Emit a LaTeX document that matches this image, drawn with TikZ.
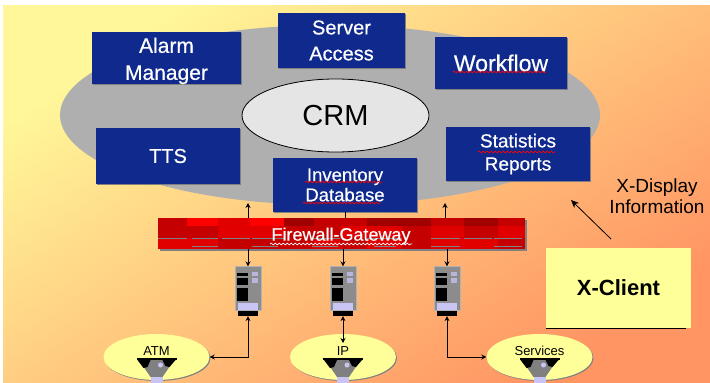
\documentclass[tikz,border=0pt]{standalone}
\usepackage{fontspec}
\setmainfont{Liberation Sans}
\newfontfamily\heavyfont[FakeBold=0.5]{Liberation Sans}
\usepackage{tikz}
\usetikzlibrary{positioning,shapes.geometric,shadows,arrows.meta,decorations.pathmorphing}

\definecolor{bgA}{HTML}{FFF799}
\definecolor{bgB}{HTML}{FFCF7C}
\definecolor{bgC}{HTML}{FF9563}
\definecolor{navy}{HTML}{0F298C}
\definecolor{disc}{HTML}{AFAFAF}
\definecolor{pale}{HTML}{FFFF99}
\definecolor{lilac}{HTML}{C8C4F4}
\definecolor{fwA}{HTML}{FF0000}
\definecolor{fwB}{HTML}{E00000}
\definecolor{fwC}{HTML}{C40000}
\definecolor{fwD}{HTML}{A00000}

\tikzset{
  svc/.style={rectangle,fill=navy,text=white,align=center,inner sep=0pt,
    font=\heavyfont\fontsize{20}{26}\selectfont,
    drop shadow={shadow xshift=1pt,shadow yshift=-1pt,fill=gray,opacity=1}},
  site/.style={ellipse,fill=pale,inner sep=0pt,minimum width=106pt,minimum height=46pt,
    drop shadow={shadow xshift=1pt,shadow yshift=-1pt,fill=gray,opacity=1}},
  sitetxt/.style={inner sep=0pt,font=\fontsize{13}{13}\selectfont},
  srv/.style={rectangle,fill=gray!90,draw=gray!60,inner sep=0pt,minimum width=26pt,minimum height=44pt},
  srvbase/.style={rectangle,fill=black,inner sep=0pt,minimum width=20pt,minimum height=5pt},
  flow/.style={-{Stealth[length=5pt,width=5pt]},line width=0.9pt},
  both/.style={{Stealth[length=5pt,width=5pt]}-{Stealth[length=5pt,width=5pt]},line width=0.9pt},
  squiggle/.style={decorate,decoration={snake,amplitude=0.9pt,segment length=4pt},line width=0.7pt},
  srvicon/.pic={
    \fill[black] (-11,-16) rectangle (0,-13);
    \fill[black] (-11,-11) rectangle (0,-4);
    \fill[black] (-11,-1) rectangle (0,12);
    \fill[lilac!80!gray] (4,-17) rectangle (10,-13);
    \fill[lilac!80!gray] (4,-11) rectangle (10,-6);
    \fill[lilac] (-10,14) rectangle (10,21);
  },
  funnel/.pic={
    \fill[gray] (-19,1) -- (19,1) -- (6,20) -- (-6,20) -- cycle;
    \fill[black] (-20,1) rectangle (20,3);
    \fill[black] (-19,3) -- (-6,3) -- (-9,10) -- (-13,11) -- cycle;
    \fill[black] (19,3) -- (6,3) -- (9,9) -- (13,10) -- cycle;
    \fill[lilac] (4,8) circle (2.5);
    \fill[lilac] (-6,20) rectangle (6,28);
  },
}

\begin{document}
\begin{tikzpicture}[x=1pt,y=-1pt]
    \useasboundingbox (0,0) rectangle (710,383);
    \shade[left color=bgA,middle color=bgB,right color=bgC,shading angle=34] (3,5) rectangle (710,383);

    \node[ellipse,fill=disc,inner sep=0pt,minimum width=540pt,minimum height=180pt] (disk) at (330,115) {};
    \node[ellipse,fill=gray!20,draw=black,line width=0.8pt,inner sep=0pt,minimum width=187pt,minimum height=73pt,
      font=\fontsize{29}{29}\selectfont] (crm) at (335.5,115.5) {CRM};

    \node[svc,minimum width=149pt,minimum height=52pt,font=\heavyfont\fontsize{21}{27}\selectfont] (alarm) at (166.5,58) {\rule{0pt}{21pt}Alarm\\Manager};
    \node[svc,minimum width=127pt,minimum height=55pt] (access) at (341.5,40.5) {Server\\Access};
    \node[svc,minimum width=132pt,minimum height=52pt,font=\heavyfont\fontsize{23}{25}\selectfont] (workflow) at (501,63) {Workflow};
    \node[svc,minimum width=144pt,minimum height=56pt] (tts) at (168,156) {TTS};
    \node[svc,minimum width=144pt,minimum height=54pt,font=\heavyfont\fontsize{19}{23}\selectfont] (stats) at (518,154) {Statistics\\Reports};
    \node[svc,minimum width=144pt,minimum height=54pt,font=\heavyfont\fontsize{18.5}{20}\selectfont] (invdb) at (345,185) {Inventory\\Database};

    \draw[red,squiggle] (453,72) -- (546,72);
    \draw[red,squiggle] (478,152) -- (555,152);
    \draw[red,squiggle] (305,182) -- (382,182);
    \draw[red,squiggle] (303,203) -- (380,203);

    \node[rectangle,fill=fwB,inner sep=0pt,minimum width=367pt,minimum height=31pt,
      drop shadow={shadow xshift=2pt,shadow yshift=-2pt,fill=gray,opacity=1}] (fwgate) at (341.5,233.5) {};
    \foreach \xa/\xb/\ca/\cb/\cc in {158/187/fwC/fwC/fwB,187/218/fwA/fwC/fwB,218/250/fwB/fwB/fwC,
      250/284/fwA/fwB/fwC,284/314/fwD/fwC/fwC,314/340/fwC/fwC/fwB,340/367/fwC/fwB/fwC,
      367/402/fwD/fwB/fwB,402/431/fwD/fwC/fwC,431/464/fwC/fwB/fwB,464/498/fwD/fwC/fwB,498/525/fwC/fwB/fwC} {
      \fill[\ca] (\xa,218) rectangle (\xb,226);
      \fill[\cb] (\xa,226) rectangle (\xb,238);
      \fill[\cc] (\xa,238) rectangle (\xb,249);
    }
    \foreach \xa/\xb in {158/187,192/218,222/250,252/284,314/340,367/402,431/460,464/492,494/522} {
      \draw[gray,line width=0.8pt] (\xa,238.5) -- (\xb,238.5);
    }
    \foreach \xa/\xb in {192/218,252/278,312/338,374/396,431/460,494/522} {
      \draw[gray,line width=0.8pt] (\xa,246.5) -- (\xb,246.5);
    }
    \node[text=white,inner sep=0pt,font=\heavyfont\fontsize{18}{18}\selectfont] (fwtxt) at (341,236) {Firewall-Gateway};
    \draw[white,squiggle] (270,244) -- (412,244);

    \foreach \name/\x in {srvA/248,srvB/343,srvC/447} {
      \node[srv] (\name) at (\x,288.5) {};
      \node[srvbase,below=0pt of \name] (\name base) {};
      \pic at (\name) {srvicon};
    }

    \node[site] (atm) at (156.5,357) {};
    \node[site] (ip) at (343,357) {};
    \node[site] (services) at (539.5,357) {};
    \foreach \name/\txt in {atm/ATM,ip/IP,services/Services} {
      \pic at (\name) {funnel};
      \node[sitetxt] (\name txt) at ([yshift=6pt]\name.center) {\txt};
    }

    \coordinate (tipA) at (248,203);
    \coordinate (tipC) at (445,203);
    \coordinate (tipB) at (343,343);
    \draw[flow] (srvA.north |- fwgate.north) -- (tipA);
    \draw[flow] (tipC |- fwgate.north) -- (tipC);
    \draw[line width=0.9pt] (invdb.south) -- (invdb.south |- fwgate.north);
    \foreach \name in {srvA,srvB,srvC} {
      \draw[flow] (\name.north |- fwgate.south) -- (\name.north);
    }
    \draw[both] (srvAbase.south) |- (atm.east);
    \draw[both] (srvBbase.south) -- (tipB);
    \draw[both] (srvCbase.south) |- (services.west);

    \node[rectangle,fill=pale,inner sep=0pt,minimum width=145pt,minimum height=80pt,
      font=\bfseries\fontsize{22}{22}\selectfont] (xclient) at (618.5,288) {X-Client};
    \draw[line width=0.9pt] (xclient.south west) -- ([xshift=-5pt]xclient.south east);
    \node[align=center,inner sep=0pt,font=\fontsize{19}{21}\selectfont] (xinfo) at (657,196) {X-Display\\Information};
    \coordinate (xfrom) at (611,239);
    \coordinate (xto) at (571,200);
    \draw[-{Stealth[length=8pt,width=7pt]},line width=0.8pt] (xfrom) -- (xto);
\end{tikzpicture}
\end{document}
